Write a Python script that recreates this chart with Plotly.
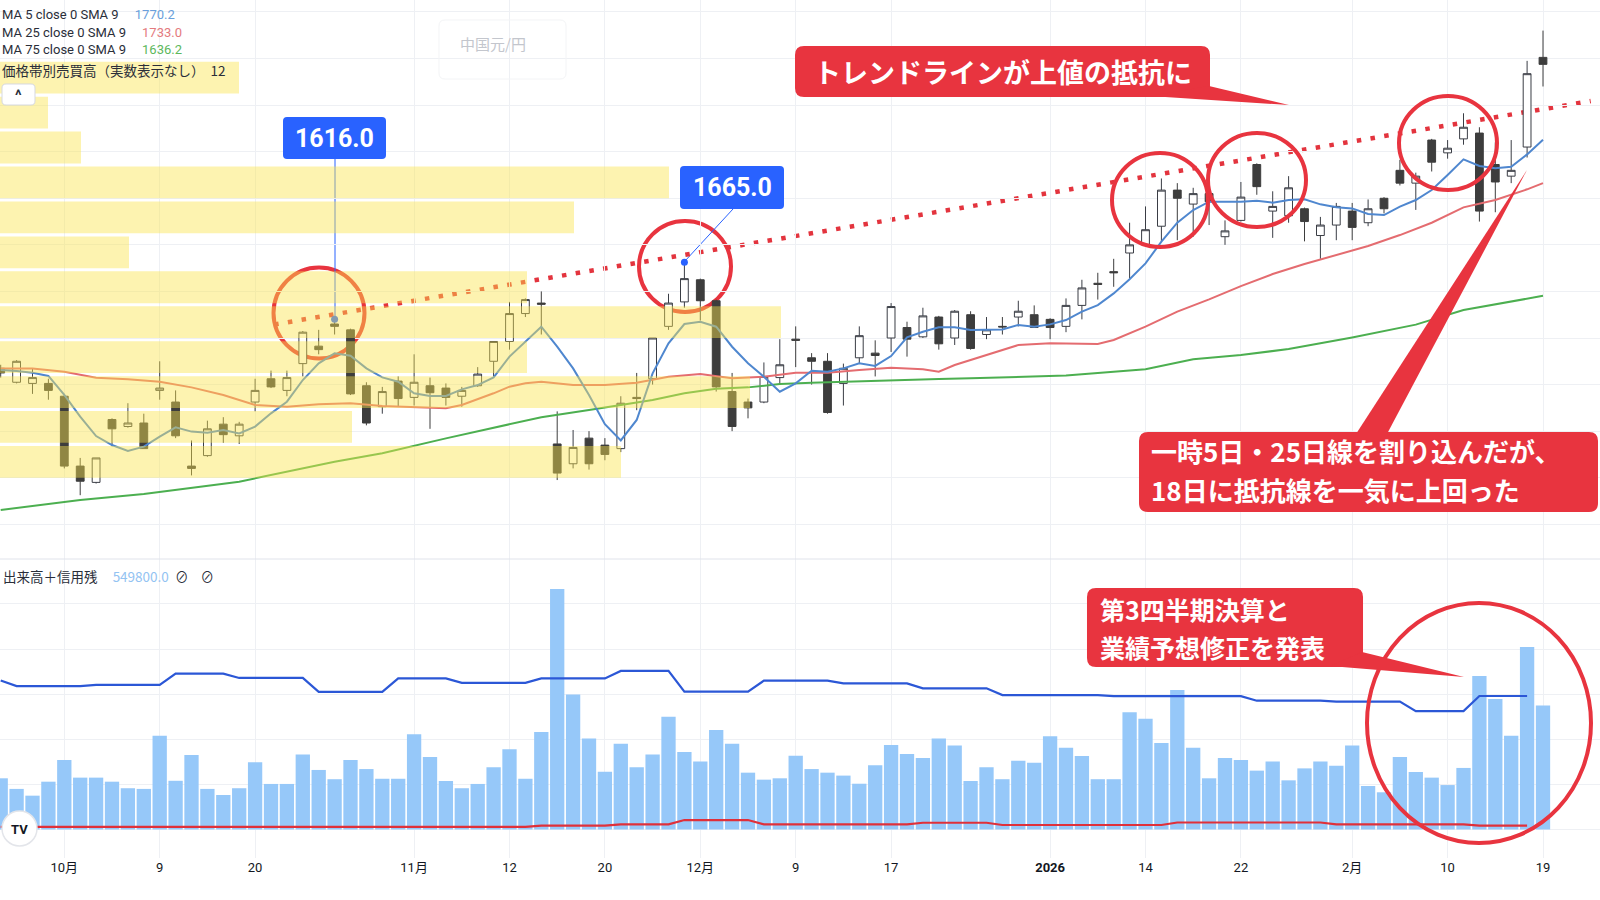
import plotly.graph_objects as go

W, H = 1600, 900

# ---------------- data ----------------
day_index = list(range(-4, 94))  # 0 = 2025-10-01 ... 93 = 2026-02-19 (trading days)

opens = [1574, 1562, 1561, 1561, 1550, 1490, 1476, 1530, 1524, 1527,
         1555, 1545, 1490, 1499, 1526, 1516, 1545, 1565, 1555, 1578,
         1593, 1612, 1607, 1559, 1541, 1563, 1549, 1559, 1557, 1550,
         1559, 1580, 1597, 1621, 1630, 1509, 1492, 1514, 1508, 1505,
         1549, 1565, 1610, 1631, 1650, 1632, 1554, 1545, 1545, 1566,
         1599, 1583, 1580, 1561, 1583, 1587, 1600, 1609, 1601, 1618,
         1600, 1620, 1603, 1610, 1618, 1620, 1616, 1610, 1628, 1647,
         1657, 1673, 1680, 1696, 1727, 1715, 1724, 1687, 1701, 1749,
         1709, 1705, 1711, 1688, 1697, 1709, 1699, 1720, 1744, 1733,
         1770, 1759, 1771, 1776, 1749, 1739, 1764, 1841]
highs = [1577, 1581, 1574, 1565, 1552, 1497, 1497, 1531, 1544, 1535,
         1580, 1555, 1512, 1529, 1532, 1528, 1565, 1572, 1572, 1606,
         1607, 1616, 1608, 1562, 1558, 1567, 1586, 1566, 1561, 1558,
         1575, 1597, 1631, 1634, 1640, 1537, 1521, 1520, 1514, 1550,
         1570, 1600, 1638, 1665, 1651, 1633, 1570, 1548, 1579, 1599,
         1610, 1587, 1587, 1578, 1610, 1598, 1630, 1614, 1626, 1619,
         1624, 1623, 1618, 1618, 1632, 1628, 1617, 1634, 1650, 1656,
         1668, 1699, 1713, 1737, 1733, 1729, 1728, 1701, 1734, 1750,
         1726, 1739, 1712, 1704, 1716, 1716, 1719, 1721, 1753, 1742,
         1771, 1770, 1793, 1781, 1768, 1770, 1838, 1864]
lows = [1566, 1561, 1552, 1547, 1488, 1465, 1475, 1507, 1523, 1505,
        1547, 1514, 1482, 1498, 1510, 1509, 1537, 1557, 1550, 1567,
        1586, 1603, 1551, 1525, 1535, 1541, 1542, 1522, 1542, 1541,
        1558, 1567, 1590, 1618, 1603, 1478, 1488, 1487, 1495, 1502,
        1538, 1560, 1607, 1626, 1615, 1554, 1520, 1531, 1544, 1561,
        1575, 1560, 1535, 1542, 1578, 1567, 1588, 1584, 1600, 1590,
        1594, 1590, 1599, 1603, 1610, 1609, 1599, 1605, 1616, 1633,
        1644, 1651, 1679, 1683, 1684, 1687, 1697, 1680, 1700, 1723,
        1686, 1699, 1683, 1668, 1684, 1684, 1696, 1707, 1731, 1710,
        1743, 1754, 1766, 1700, 1708, 1733, 1755, 1816]
closes = [1570, 1580, 1566, 1555, 1490, 1477, 1497, 1522, 1527, 1505,
          1557, 1516, 1488, 1522, 1517, 1526, 1555, 1558, 1566, 1605,
          1590, 1610, 1552, 1527, 1554, 1548, 1562, 1553, 1549, 1555,
          1569, 1597, 1621, 1633, 1629, 1484, 1506, 1492, 1500, 1544,
          1548, 1600, 1630, 1651, 1632, 1558, 1524, 1540, 1567, 1577,
          1598, 1580, 1536, 1574, 1602, 1585, 1627, 1599, 1619, 1595,
          1623, 1591, 1607, 1609.5, 1623, 1609, 1609, 1628, 1643, 1646,
          1656, 1680, 1693, 1727, 1720, 1724, 1717, 1692, 1721, 1730,
          1713, 1729, 1700, 1697, 1713, 1695, 1711, 1711, 1733, 1739,
          1751, 1763, 1781, 1709, 1734, 1744, 1827, 1835]

volume = [227000, 180000, 150000, 212000, 308000, 230000, 230000, 212000, 183000, 180000,
          416000, 216000, 330000, 180000, 153000, 183000, 298000, 202000, 202000, 333000,
          264000, 223000, 308000, 268000, 225000, 225000, 422000, 321000, 215000, 183000,
          202000, 276000, 356000, 225000, 432000, 1066000, 599000, 404000, 256000, 380000,
          276000, 333000, 500000, 344000, 302000, 441000, 380000, 252000, 221000, 227000,
          327000, 268000, 252000, 239000, 203000, 285000, 375000, 335000, 317000, 404000,
          372000, 215000, 276000, 223000, 305000, 296000, 413000, 363000, 326000, 223000,
          223000, 520000, 491000, 384000, 619000, 363000, 227000, 317000, 308000, 261000,
          301000, 218000, 271000, 301000, 283000, 372000, 193000, 165000, 321000, 255000,
          230000, 197000, 273000, 681000, 579000, 416000, 809000, 549800]

ma5 = [1572.5, 1571.7, 1570.2, 1567.4, 1551.1, 1532.4, 1515.8, 1508.1, 1503.0, 1506.7,
       1515.3, 1523.3, 1519.6, 1518.7, 1521.0, 1518.1, 1523.9, 1535.3, 1545.3, 1563.9,
       1578.2, 1586.8, 1584.8, 1573.9, 1566.2, 1562.5, 1552.5, 1550.2, 1550.2, 1555.9,
       1559.6, 1566.2, 1584.0, 1596.8, 1609.7, 1592.5, 1573.9, 1551.0, 1526.0, 1512.0,
       1529.6, 1569.6, 1595.4, 1612.0, 1614.0, 1609.7, 1592.5, 1578.3, 1566.8, 1553.9,
       1561.1, 1571.9, 1571.1, 1573.9, 1578.2, 1576.0, 1584.5, 1600.6, 1605.4, 1609.2,
       1609.2, 1606.9, 1606.9, 1607.4, 1611.2, 1609.7, 1611.7, 1615.4, 1622.6, 1628.3,
       1638.3, 1650.4, 1664.1, 1682.7, 1699.0, 1709.9, 1717.1, 1717.1, 1717.1, 1717.9,
       1716.2, 1718.5, 1719.1, 1714.8, 1712.2, 1711.3, 1706.5, 1705.6, 1712.8, 1718.5,
       1727.1, 1740.0, 1753.4, 1747.7, 1745.7, 1747.1, 1757.7, 1770.2]

ma25_x = [-4, -2, 0, 2, 4, 6, 8, 10, 12, 14, 16, 18, 20, 22, 24, 25, 26, 27, 28, 29,
          30, 32, 34, 36, 38, 40, 42, 44, 46, 48, 50, 52, 54, 55, 56, 58, 60, 62, 64, 65,
          66, 68, 70, 72, 74, 76, 78, 80, 82, 84, 86, 88, 90, 92, 93]
ma25 = [1573.9, 1573.9, 1571.1, 1565.9, 1564.5, 1562.5, 1557.6, 1551.0, 1542.5, 1541.0,
        1543.0, 1543.9, 1541.6, 1540.5, 1539.6, 1542.5, 1547.3, 1552.5, 1558.2, 1561.1,
        1562.5, 1559.6, 1559.6, 1561.6, 1566.8, 1569.1, 1565.4, 1566.8, 1570.2, 1570.2,
        1572.5, 1574.5, 1573.1, 1571.1, 1576.8, 1585.4, 1594.0, 1595.4, 1594.8, 1594.8,
        1598.3, 1609.7, 1622.6, 1633.2, 1644.6, 1654.9, 1663.5, 1671.3, 1679.0, 1688.4,
        1699.0, 1712.2, 1718.5, 1727.7, 1733.0]

ma75_x = [-4, 1, 5, 11, 17, 20, 24, 27, 30, 33, 35, 37, 39, 41, 43, 45, 47, 49, 51, 53,
          55, 57, 59, 61, 63, 68, 71, 74, 77, 81, 85, 88, 91, 93]
ma75 = [1452.3, 1460.9, 1466.0, 1476.6, 1493.8, 1501.0, 1513.8, 1523.0, 1532.0, 1538.2,
        1542.5, 1546.8, 1552.5, 1556.5, 1557.6, 1560.5, 1561.6, 1562.5, 1563.4, 1563.9,
        1564.8, 1565.4, 1566.2, 1566.8, 1567.7, 1573.1, 1581.7, 1585.4, 1590.5, 1600.5,
        1611.5, 1624.0, 1631.0, 1636.2]

margin_buy_x = [-4, -3, 1, 2, 6, 7, 10, 11, 15, 16, 20, 21, 24, 25, 29, 30, 34, 35, 38, 39,
                43, 44, 48, 49, 53, 54, 58, 59, 65, 66, 74, 75, 79, 80, 84, 85, 88, 89, 92]
margin_buy = [661000, 636000, 636000, 641000, 641000, 691000, 691000, 672000, 672000, 610000,
              610000, 670000, 670000, 650000, 650000, 670000, 670000, 703000, 703000, 611000,
              611000, 660000, 660000, 648000, 648000, 626000, 626000, 596000, 596000, 591000,
              591000, 571000, 571000, 567000, 567000, 525000, 525000, 592000, 592000]
margin_sell_x = [-4, 29, 30, 34, 35, 38, 39, 43, 44, 53, 54, 58, 59, 69, 70, 79, 80, 88, 89, 92]
margin_sell = [12000, 12000, 17000, 17000, 23000, 23000, 42000, 42000, 23000, 23000,
               30000, 30000, 20000, 20000, 31000, 31000, 23000, 23000, 17000, 17000]

# volume profile (12 price rows) - row mid prices and relative volume
vp_mid = [1493.6, 1523.6, 1553.6, 1583.6, 1613.6, 1643.6, 1673.6, 1703.6, 1733.6, 1763.6, 1793.6, 1823.6]
vp_volume = [621, 352, 750, 527, 781, 527, 129, 574, 669, 81, 48, 239]

tick_index = [0, 6, 12, 22, 28, 34, 40, 46, 52, 62, 68, 74, 81, 87, 93]
tick_labels = ["10月", "9", "20", "11月", "12", "20", "12月", "9", "17", "<b>2026</b>",
               "14", "22", "2月", "10", "19"]

# marked highs and trendline (index, price)
peak_x = [17, 39]
peak_y = [1616.0, 1665.0]
trend_x = [13.2, 96.0]
trend_y = [1611.6, 1803.5]

# ---------------- figure ----------------
RED = "#e8343f"
FONT = "Roboto, 'Noto Sans CJK JP', sans-serif"
JFONT = "'Noto Sans CJK JP', sans-serif"

def P(x, y):
    return f"{x / W:.5f},{1 - y / H:.5f}"

def rrect(x0, y0, x1, y1, r):
    return (f"M {P(x0 + r, y0)} L {P(x1 - r, y0)} Q {P(x1, y0)} {P(x1, y0 + r)} "
            f"L {P(x1, y1 - r)} Q {P(x1, y1)} {P(x1 - r, y1)} L {P(x0 + r, y1)} "
            f"Q {P(x0, y1)} {P(x0, y1 - r)} L {P(x0, y0 + r)} Q {P(x0, y0)} {P(x0 + r, y0)} Z")

def tri(a, b, c):
    return f"M {P(*a)} L {P(*b)} L {P(*c)} Z"

fig = go.Figure()

fig.add_trace(go.Candlestick(
    x=day_index, open=opens, high=highs, low=lows, close=closes,
    xaxis="x", yaxis="y", whiskerwidth=0,
    increasing=dict(line=dict(color="#3a3d45", width=1), fillcolor="#ffffff"),
    decreasing=dict(line=dict(color="#3d3d3d", width=1), fillcolor="#3d3d3d"),
    showlegend=False, hoverinfo="skip"))

fig.add_trace(go.Scatter(x=ma75_x, y=ma75, mode="lines", line=dict(color="#4caf50", width=2),
                         xaxis="x", yaxis="y", showlegend=False, hoverinfo="skip"))
fig.add_trace(go.Scatter(x=ma25_x, y=ma25, mode="lines", line=dict(color="#e46c70", width=2),
                         xaxis="x", yaxis="y", showlegend=False, hoverinfo="skip"))
fig.add_trace(go.Scatter(x=day_index, y=ma5, mode="lines", line=dict(color="#4f87cf", width=2),
                         xaxis="x", yaxis="y", showlegend=False, hoverinfo="skip"))
fig.add_trace(go.Scatter(x=peak_x, y=peak_y, mode="markers",
                         marker=dict(color="#2962ff", size=7), xaxis="x", yaxis="y",
                         showlegend=False, hoverinfo="skip"))

# volume panel
fig.add_trace(go.Bar(x=day_index, y=volume, xaxis="x", yaxis="y2", width=0.9,
                     marker=dict(color="#96c8f9", line=dict(width=0)),
                     showlegend=False, hoverinfo="skip"))
fig.add_trace(go.Scatter(x=margin_buy_x, y=margin_buy, mode="lines",
                         line=dict(color="#2b57d6", width=2.2), xaxis="x", yaxis="y2",
                         showlegend=False, hoverinfo="skip"))
fig.add_trace(go.Scatter(x=margin_sell_x, y=margin_sell, mode="lines",
                         line=dict(color="#e0303a", width=2.2), xaxis="x", yaxis="y2",
                         showlegend=False, hoverinfo="skip"))

# volume profile overlay (translucent yellow, drawn on top of candles)
fig.add_trace(go.Bar(y=vp_mid, x=vp_volume, base=0, orientation="h", width=27.3,
                     xaxis="x3", yaxis="y",
                     marker=dict(color="rgba(250,228,74,0.44)", line=dict(width=0)),
                     showlegend=False, hoverinfo="skip"))

grid = "#eef0f4"
price_top = 1600 + 338 / 1.1644
price_bot = 1600 - (559 - 338) / 1.1644
vol_per_px = 4434.0
vol_top = (829.5 - 559) * vol_per_px
vol_bot = (829.5 - 858) * vol_per_px

fig.update_layout(
    width=W, height=H, margin=dict(l=0, r=0, t=0, b=0),
    paper_bgcolor="#ffffff", plot_bgcolor="rgba(0,0,0,0)",
    hovermode=False, showlegend=False, boxgap=0.3,
    xaxis=dict(domain=[0, 1], range=[-4.044, 96.585], anchor="y2",
               tickmode="array", tickvals=tick_index, ticktext=tick_labels,
               showgrid=True, gridcolor=grid, gridwidth=1, zeroline=False, showline=False,
               ticks="", tickfont=dict(family=FONT, size=13, color="#131722"),
               rangeslider=dict(visible=False), fixedrange=True),
    xaxis3=dict(overlaying="x", anchor="y", range=[0, 1600], visible=False, fixedrange=True),
    yaxis=dict(domain=[1 - 559 / H, 1], range=[price_bot, price_top], tick0=1600, dtick=40,
               showgrid=True, gridcolor=grid, zeroline=False, showticklabels=False,
               ticks="", fixedrange=True),
    yaxis2=dict(domain=[1 - 858 / H, 1 - 559 / H], range=[vol_bot, vol_top], tick0=0,
                dtick=200000, showgrid=True, gridcolor=grid, zeroline=False,
                showticklabels=False, ticks="", fixedrange=True),
)

shapes = []
# trendline (dotted) and first two circles beneath the profile overlay
shapes.append(dict(type="line", xref="x", yref="y", x0=trend_x[0], y0=trend_y[0],
                   x1=trend_x[1], y1=trend_y[1], layer="below",
                   line=dict(color="#e3343e", width=4.5, dash="4.5px,9.4px")))
for (x0, y0, x1, y1) in [(273.5, 267.5, 364.5, 358.5), (639, 221, 731, 312)]:
    shapes.append(dict(type="circle", xref="paper", yref="paper", layer="below",
                       x0=x0 / W, x1=x1 / W, y0=1 - y1 / H, y1=1 - y0 / H,
                       line=dict(color=RED, width=4)))
# connector lines from labels to peaks
shapes.append(dict(type="line", xref="paper", yref="paper", layer="below",
                   x0=335 / W, x1=335 / W, y0=1 - 159 / H, y1=1 - 318 / H,
                   line=dict(color="#2962ff", width=1)))
shapes.append(dict(type="line", xref="paper", yref="paper", layer="below",
                   x0=733 / W, x1=685 / W, y0=1 - 209 / H, y1=1 - 261 / H,
                   line=dict(color="#2962ff", width=1)))
# other circles
for (x0, y0, x1, y1) in [(1112, 153, 1208, 247), (1208, 133, 1306, 227),
                         (1399, 96, 1497, 190), (1367, 603, 1591, 843)]:
    shapes.append(dict(type="circle", xref="paper", yref="paper", layer="above",
                       x0=x0 / W, x1=x1 / W, y0=1 - y1 / H, y1=1 - y0 / H,
                       line=dict(color=RED, width=4)))
# panel separator
shapes.append(dict(type="line", xref="paper", yref="paper", x0=0, x1=1,
                   y0=1 - 559 / H, y1=1 - 559 / H, line=dict(color="#e0e3eb", width=1)))
# callout boxes and tails
for (x0, y0, x1, y1) in [(795, 46, 1210, 97), (1139, 432, 1598, 512), (1087, 588, 1363, 667)]:
    shapes.append(dict(type="path", xref="paper", yref="paper", path=rrect(x0, y0, x1, y1, 9),
                       fillcolor=RED, line=dict(width=0), layer="above"))
shapes.append(dict(type="path", xref="paper", yref="paper",
                   path=tri((1150, 96), (1209, 86), (1289, 105)),
                   fillcolor=RED, line=dict(width=0), layer="above"))
shapes.append(dict(type="path", xref="paper", yref="paper",
                   path=tri((1356, 434), (1387, 434), (1527, 170)),
                   fillcolor=RED, line=dict(width=0), layer="above"))
shapes.append(dict(type="path", xref="paper", yref="paper",
                   path=tri((1330, 666), (1362, 652), (1464, 677)),
                   fillcolor=RED, line=dict(width=0), layer="above"))
# price label boxes
for (x0, y0, x1, y1) in [(283, 117, 386, 159), (680, 166, 784, 209)]:
    shapes.append(dict(type="path", xref="paper", yref="paper", path=rrect(x0, y0, x1, y1, 4),
                       fillcolor="#2962ff", line=dict(width=0), layer="above"))
# collapse button, faint currency box, TV logo
shapes.append(dict(type="path", xref="paper", yref="paper", path=rrect(2, 84, 35, 105, 4),
                   fillcolor="#ffffff", line=dict(color="#d6d9e0", width=1), layer="above"))
shapes.append(dict(type="path", xref="paper", yref="paper", path=rrect(439, 20, 566, 79, 6),
                   fillcolor="rgba(255,255,255,0)", line=dict(color="#f3f4f6", width=1),
                   layer="above"))
shapes.append(dict(type="circle", xref="paper", yref="paper", x0=2 / W, x1=37 / W,
                   y0=1 - 846 / H, y1=1 - 811 / H, fillcolor="#ffffff",
                   line=dict(color="#e3e5ea", width=1.5), layer="above"))
fig.update_layout(shapes=shapes)

ann = []

def text(x, y, s, size=13, color="#2a2e39", xanchor="left", family=FONT, align="left"):
    ann.append(dict(x=x / W, y=1 - y / H, xref="paper", yref="paper", text=s,
                    showarrow=False, xanchor=xanchor, yanchor="middle", align=align,
                    borderpad=0, font=dict(family=family, size=size, color=color)))

text(1, 14.5, "MA 5 close 0 SMA 9&nbsp;&nbsp;&nbsp;&nbsp;&nbsp;<span style='color:#6a9fdc'>1770.2</span>")
text(1, 32, "MA 25 close 0 SMA 9&nbsp;&nbsp;&nbsp;&nbsp;&nbsp;<span style='color:#e47a7e'>1733.0</span>")
text(1, 49.5, "MA 75 close 0 SMA 9&nbsp;&nbsp;&nbsp;&nbsp;&nbsp;<span style='color:#5cb85c'>1636.2</span>")
text(1, 70, "価格帯別売買高（実数表示なし）&nbsp;&nbsp;12", size=13.5, family=JFONT)
text(18.5, 95, "<b>^</b>", size=15, xanchor="center")
text(493, 43, "中国元/円", size=15, color="#c3c6cd", xanchor="center", family=JFONT)
text(2, 576, "出来高＋信用残&nbsp;&nbsp;&nbsp;&nbsp;&nbsp;<span style='color:#93c3f2'>549800.0</span>"
     "&nbsp;&nbsp;⊘&nbsp;&nbsp;&nbsp;&nbsp;⊘", size=13.5, family=JFONT)
text(19.5, 829, "<b>TV</b>", size=13, color="#131722", xanchor="center")

text(1002.5, 71.5, "<b>トレンドラインが上値の抵抗に</b>", size=27, color="#ffffff",
     xanchor="center", family=JFONT)
text(1150, 451, "<b>一時5日・25日線を割り込んだが、</b>", size=26, color="#ffffff", family=JFONT)
text(1150, 490, "<b>18日に抵抗線を一気に上回った</b>", size=26, color="#ffffff", family=JFONT)
text(1099, 608.5, "<b>第3四半期決算と</b>", size=25, color="#ffffff", family=JFONT)
text(1099, 647, "<b>業績予想修正を発表</b>", size=25, color="#ffffff", family=JFONT)

text(334.5, 138, "<b>1616.0</b>", size=25, color="#ffffff", xanchor="center")
text(732, 187.5, "<b>1665.0</b>", size=25, color="#ffffff", xanchor="center")

fig.update_layout(annotations=ann)

fig.write_html("out.html", config={"displayModeBar": False})
